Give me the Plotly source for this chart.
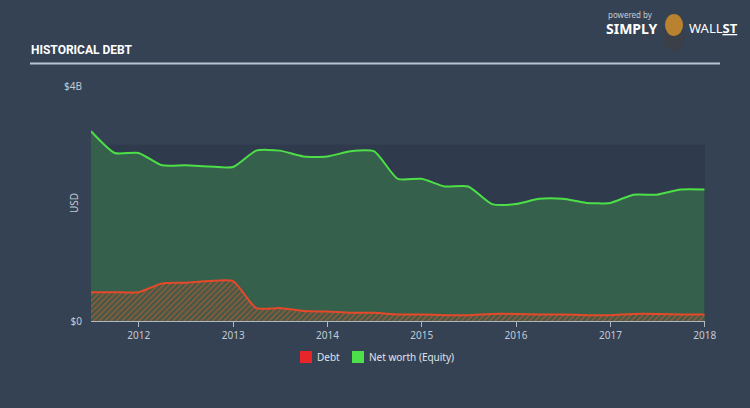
import plotly.graph_objects as go

dates = ["2011-06-30", "2011-09-30", "2011-12-31", "2012-03-31", "2012-06-30", "2012-09-30",
         "2012-12-31", "2013-03-31", "2013-06-30", "2013-09-30", "2013-12-31", "2014-03-31",
         "2014-06-30", "2014-09-30", "2014-12-31", "2015-03-31", "2015-06-30", "2015-09-30",
         "2015-12-31", "2016-03-31", "2016-06-30", "2016-09-30", "2016-12-31", "2017-03-31",
         "2017-06-30", "2017-09-30", "2017-12-31"]
equity = [3.23, 2.86, 2.86, 2.65, 2.65, 2.63, 2.62, 2.90, 2.90, 2.80, 2.80, 2.89,
          2.89, 2.42, 2.42, 2.29, 2.29, 1.99, 1.99, 2.08, 2.08, 2.01, 2.01, 2.15,
          2.15, 2.24, 2.24]
debt = [0.49, 0.49, 0.49, 0.64, 0.65, 0.68, 0.68, 0.22, 0.22, 0.17, 0.16, 0.14,
        0.14, 0.11, 0.11, 0.10, 0.10, 0.12, 0.12, 0.11, 0.11, 0.10, 0.10, 0.12,
        0.12, 0.11, 0.11]
tick_years = ["2012-01-01", "2013-01-01", "2014-01-01", "2015-01-01", "2016-01-01",
              "2017-01-01", "2018-01-01"]
tick_labels = ["2012", "2013", "2014", "2015", "2016", "2017", "2018"]
series_names = ["Debt", "Net worth (Equity)"]

BG = "#344254"
TXT = "#c3cad3"

fig = go.Figure()
fig.add_trace(go.Scatter(x=dates, y=equity, name=series_names[1], mode="lines",
                         line=dict(color="#4ddf47", width=2, shape="spline", smoothing=0.6),
                         fill="tozeroy", fillcolor="#35604c", showlegend=False, hoverinfo="skip"))
fig.add_trace(go.Scatter(x=dates, y=debt, name=series_names[0], mode="lines",
                         line=dict(color="#e5492a", width=2, shape="spline", smoothing=0.6),
                         fill="tozeroy", fillcolor="rgba(0,0,0,0)",
                         fillpattern=dict(shape="/", fgcolor="#d65a30", bgcolor="#3a5a48", size=4, solidity=0.5),
                         showlegend=False, hoverinfo="skip"))

def px(x):
    return (x - 91) / 614.0

def py(y):
    return (321 - y) / 235.0

fig.add_shape(type="rect", xref="paper", yref="y", x0=0, x1=1, y0=0, y1=3.0,
              fillcolor="#2f3b4c", line=dict(width=0), layer="below")
fig.add_shape(type="line", xref="paper", yref="paper", x0=px(30), x1=px(720), y0=py(63.5), y1=py(63.5),
              line=dict(color="#b8c3cf", width=2))

# legend (drawn manually to match spacing)
fig.add_shape(type="rect", xref="paper", yref="paper", x0=px(300), x1=px(312), y0=py(363), y1=py(351),
              fillcolor="#e8262a", line=dict(width=0))
fig.add_shape(type="rect", xref="paper", yref="paper", x0=px(352), x1=px(364), y0=py(363), y1=py(351),
              fillcolor="#4ee04a", line=dict(width=0))

ann = []
ann.append(dict(text=series_names[0], x=px(315), y=py(357), xref="paper", yref="paper", xanchor="left",
                yanchor="middle", showarrow=False, font=dict(family="Noto Sans, sans-serif", size=10, color="#e0e4ea")))
ann.append(dict(text=series_names[1], x=px(367), y=py(357), xref="paper", yref="paper", xanchor="left",
                yanchor="middle", showarrow=False, font=dict(family="Noto Sans, sans-serif", size=10, color="#e0e4ea")))
ann.append(dict(text="<b>HISTORICAL DEBT</b>", x=px(29), y=py(50), xref="paper", yref="paper",
                xanchor="left", yanchor="middle", showarrow=False,
                font=dict(family="Roboto, sans-serif", size=12, color="#ffffff")))
ann.append(dict(text="USD", x=px(65), y=py(203), xref="paper", yref="paper", textangle=-90,
                showarrow=False, font=dict(family="Noto Sans, sans-serif", size=10, color=TXT)))
ann.append(dict(text="powered by", x=px(606), y=py(15), xref="paper", yref="paper", xanchor="left",
                yanchor="middle", showarrow=False, font=dict(family="Noto Sans, sans-serif", size=8, color="#c3cad3")))
ann.append(dict(text="<b>SIMPLY</b>", x=px(604), y=py(28), xref="paper", yref="paper", xanchor="left",
                yanchor="middle", showarrow=False, font=dict(family="Noto Sans, sans-serif", size=14, color="#ffffff")))
ann.append(dict(text="WALL<b><u>ST</u></b>", x=px(687), y=py(28), xref="paper", yref="paper", xanchor="left",
                yanchor="middle", showarrow=False, font=dict(family="Noto Sans, sans-serif", size=13, color="#ffffff")))
fig.add_shape(type="circle", xref="paper", yref="paper", x0=px(663), x1=px(685), y0=py(50), y1=py(26),
              fillcolor="#3b3f47", line=dict(width=0))
fig.add_shape(type="circle", xref="paper", yref="paper", x0=px(665), x1=px(683), y0=py(36), y1=py(14),
              fillcolor="#b9822f", line=dict(width=0))

fig.update_layout(
    width=750, height=408,
    paper_bgcolor=BG, plot_bgcolor=BG,
    margin=dict(l=91, r=45, t=86, b=87),
    annotations=ann,
    showlegend=False,
    xaxis=dict(type="date", range=["2011-06-30", "2018-01-02"], tickvals=tick_years, ticktext=tick_labels,
               showgrid=False, zeroline=False, showline=True, linecolor="#aeb8c4", linewidth=1,
               ticks="outside", ticklen=5, tickcolor="#aeb8c4",
               tickfont=dict(family="Noto Sans, sans-serif", size=10, color=TXT)),
    yaxis=dict(range=[0, 4], tickvals=[0, 4], ticktext=["$0", "$4B"], showgrid=False, zeroline=False,
               showline=False, ticks="", ticklabelstandoff=8,
               tickfont=dict(family="Noto Sans, sans-serif", size=10, color=TXT)),
)

fig.write_html("out.html", config={"displayModeBar": False})
with open("out.html", "r", encoding="utf-8") as f:
    html = f.read()
html = html.replace("<head>", "<head><style>html,body{margin:0;padding:0;overflow:hidden;background:#344254}</style>", 1)
with open("out.html", "w", encoding="utf-8") as f:
    f.write(html)
